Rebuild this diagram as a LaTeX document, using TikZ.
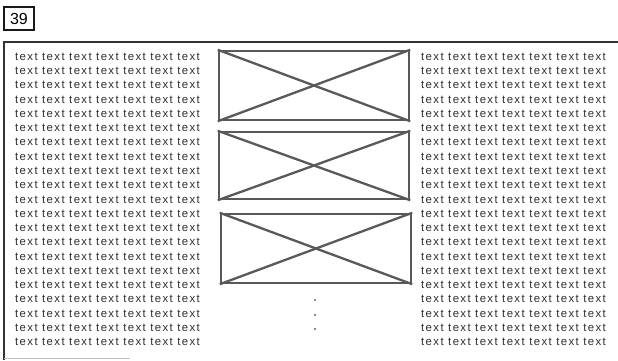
\documentclass[tikz,border=0pt]{standalone}
\usepackage{fontspec}
\setmainfont{Liberation Sans}
\newfontfamily\coltext[LetterSpace=12]{Liberation Sans}
\begin{document}
\begin{tikzpicture}[x=1pt,y=-1pt,
  txt/.style={inner sep=0pt, anchor=base west, text=black!82, font=\coltext\fontsize{11.4pt}{12pt}\selectfont},
  imgbox/.style={draw=black!65, line width=2.4pt, inner sep=0pt, fill=white},
  cross/.style={draw=black!65, line width=2.3pt},
  frameline/.style={draw=black!80, line width=1.5pt},
  dotmark/.style={fill=black!45, inner sep=0pt, minimum size=1.2pt},
  pagebox/.style={draw=black!90, line width=1.5pt, minimum width=30pt, minimum height=23pt, inner sep=0pt, font=\fontsize{16pt}{18pt}\selectfont}
]
\useasboundingbox (0,0) rectangle (618,360);
% page number
\node[pagebox] (pg) at (19,18.5) {39};
% frame
\coordinate (ftl) at (4,42);
\coordinate (ftr) at (618,42);
\coordinate (fbl) at (4,360);
\coordinate (fbb) at (130,358.5);
\draw[frameline] (ftr) -- (ftl) -- (fbl);
\draw[draw=black!25, line width=1pt] (4,358.5) -- (fbb);
% text columns
\foreach \i in {0,...,20} {
  \node[txt] (L\i) at (15,{60.3+14.27*\i}) {text text text text text text text};
  \node[txt] (R\i) at (421,{60.3+14.27*\i}) {text text text text text text text};
}
% image placeholders
\node[imgbox, minimum width=190pt, minimum height=69pt] (img1) at (314,85.5) {};
\node[imgbox, minimum width=190pt, minimum height=67pt] (img2) at (314,165.5) {};
\node[imgbox, minimum width=190pt, minimum height=69pt] (img3) at (316,248.5) {};
\foreach \b in {img1,img2,img3} {
  \draw[cross] (\b.north west) -- (\b.south east);
  \draw[cross] (\b.south west) -- (\b.north east);
}
% dots
\node[dotmark] (d1) at (315,300) {};
\node[dotmark] (d2) at (315,315) {};
\node[dotmark] (d3) at (315,329) {};
\end{tikzpicture}
\end{document}
